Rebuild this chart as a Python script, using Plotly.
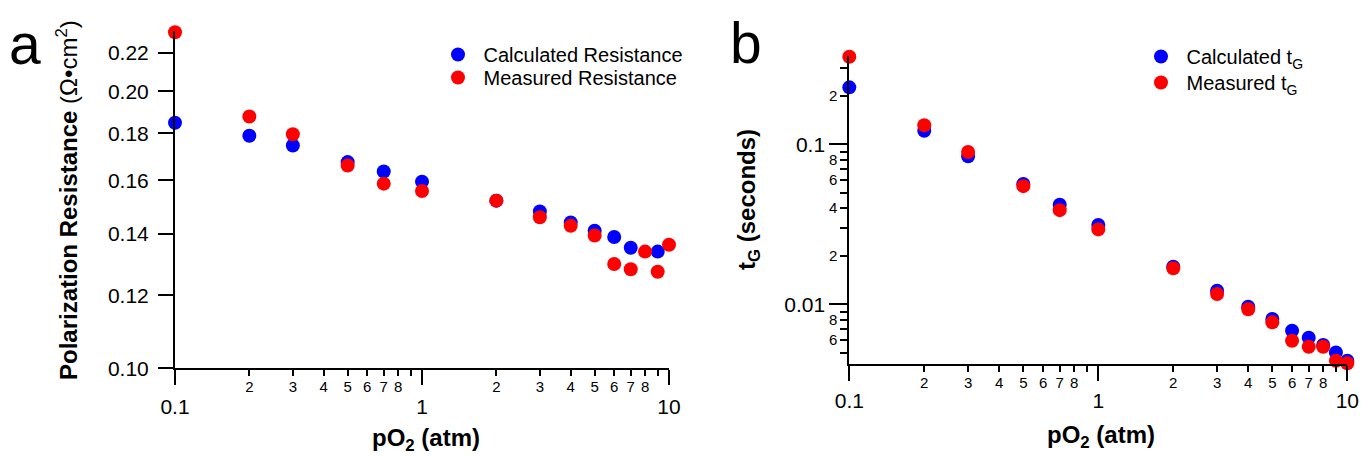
#!/usr/bin/env python3
"""Polarization resistance and t_G versus pO2, two log-log scatter panels."""
import numpy as np
import plotly.graph_objects as go

# --- data ---
po2 = [0.1, 0.2, 0.3, 0.5, 0.7, 1, 2, 3, 4, 5, 6, 7, 8, 9, 10]

res_calc = [0.1848, 0.1789, 0.1746, 0.1675, 0.1636, 0.1595, 0.1521, 0.1480,
            0.1440, 0.1411, 0.1389, 0.1352, None, 0.1339, None]
res_meas = [0.2318, 0.1877, 0.1796, 0.1661, 0.1587, 0.1558, 0.1521, 0.1459,
            0.1428, 0.1394, 0.1298, 0.1281, 0.1339, 0.1273, 0.1362]

tg_calc = [0.227, 0.1216, 0.0841, 0.0565, 0.0419, 0.0313, 0.0172, 0.01216,
           0.00966, 0.00810, 0.00684, 0.00618, 0.00557, 0.00501, 0.00444]
tg_meas = [0.353, 0.1315, 0.0895, 0.0548, 0.0388, 0.0294, 0.0168, 0.01160,
           0.00931, 0.00772, 0.00592, 0.00543, 0.00543, 0.00444, 0.00428]

x_major = [0.1, 1, 10]
x_major_text = ["0.1", "1", "10"]
x_minor = [0.2, 0.3, 0.4, 0.5, 0.6, 0.7, 0.8, 0.9, 2, 3, 4, 5, 6, 7, 8, 9]
x_minor_text = ["2", "3", "4", "5", "6", "7", "8", "",
                "2", "3", "4", "5", "6", "7", "8", ""]

res_ticks = [0.10, 0.12, 0.14, 0.16, 0.18, 0.20, 0.22]
res_text = ["0.10", "0.12", "0.14", "0.16", "0.18", "0.20", "0.22"]

tg_major = [0.01, 0.1]
tg_major_text = ["0.01", "0.1"]
tg_minor = [0.005, 0.006, 0.007, 0.008, 0.009,
            0.02, 0.03, 0.04, 0.05, 0.06, 0.07, 0.08, 0.09, 0.2, 0.3]
tg_minor_text = ["", "6", "", "8", "",
                 "2", "", "4", "", "6", "", "8", "", "2", ""]

W, H = 1361, 456
FONT = "Liberation Sans, Arial, Helvetica, sans-serif"
BLUE = "#0000ff"
RED = "#ff0000"


def px_x(p):
    return p / W


def px_y(p):
    return 1 - p / H


# plot areas in pixels
dom_ax = [px_x(175), px_x(669)]
dom_ay = [px_y(368.3), px_y(31.0)]
dom_bx = [px_x(849.3), px_x(1347.3)]
dom_by = [px_y(364.3), px_y(56.3)]

xr = [np.log10(0.1), np.log10(10)]
yr_a = [np.log10(0.1), np.log10(0.2325)]
yr_b = [np.log10(0.00422), np.log10(0.355)]

fig = go.Figure()
mk = dict(size=14, line=dict(width=0))
fig.add_trace(go.Scatter(x=po2, y=res_calc, mode="markers", name="\u00a0Calculated Resistance",
                         marker=dict(color=BLUE, **mk), xaxis="x", yaxis="y", legend="legend",
                         cliponaxis=False, hoverinfo="x+y"))
fig.add_trace(go.Scatter(x=po2, y=res_meas, mode="markers", name="\u00a0Measured Resistance",
                         marker=dict(color=RED, **mk), xaxis="x3", yaxis="y", legend="legend2",
                         cliponaxis=False, hoverinfo="x+y"))
fig.add_trace(go.Scatter(x=po2, y=tg_calc, mode="markers", name="\u00a0Calculated t<sub>G</sub>",
                         marker=dict(color=BLUE, **mk), xaxis="x2", yaxis="y2", legend="legend3",
                         cliponaxis=False, hoverinfo="x+y"))
fig.add_trace(go.Scatter(x=po2, y=tg_meas, mode="markers", name="\u00a0Measured t<sub>G</sub>",
                         marker=dict(color=RED, **mk), xaxis="x4", yaxis="y3", legend="legend4",
                         cliponaxis=False, hoverinfo="x+y"))

base = dict(type="log", showgrid=False, zeroline=False, ticks="outside", tickcolor="black",
            automargin=False, fixedrange=True)
major_font = dict(family=FONT, size=21, color="black")
minor_font = dict(family=FONT, size=15, color="black")
leg_font = dict(family=FONT, size=20, color="black")


def leg(xp, yp):
    return dict(x=px_x(xp), y=px_y(yp), xanchor="left", yanchor="top",
                bgcolor="rgba(0,0,0,0)", font=leg_font)


fig.update_layout(
    width=W, height=H,
    margin=dict(l=0, r=0, t=0, b=0),
    paper_bgcolor="white", plot_bgcolor="white",
    font=dict(family=FONT, color="black"),
    # panel a
    xaxis=dict(base, domain=dom_ax, range=xr, anchor="y", showline=True, linecolor="black",
               linewidth=2, tickmode="array", tickvals=x_major, ticktext=x_major_text,
               ticklen=15, tickwidth=2, tickfont=major_font, ticklabelstandoff=3),
    xaxis3=dict(base, range=xr, overlaying="x", anchor="y", side="bottom", showline=False,
                tickmode="array", tickvals=x_minor, ticktext=x_minor_text,
                ticklen=7, tickwidth=1.5, tickfont=minor_font, ticklabelstandoff=-2),
    yaxis=dict(base, domain=dom_ay, range=yr_a, anchor="x", showline=True, linecolor="black",
               linewidth=2, tickmode="array", tickvals=res_ticks, ticktext=res_text,
               ticklen=15, tickwidth=2, tickfont=major_font, ticklabelstandoff=5),
    # panel b
    xaxis2=dict(base, domain=dom_bx, range=xr, anchor="y2", showline=True, linecolor="black",
                linewidth=2, tickmode="array", tickvals=x_major, ticktext=x_major_text,
                ticklen=15, tickwidth=2, tickfont=major_font, ticklabelstandoff=1),
    xaxis4=dict(base, range=xr, overlaying="x2", anchor="y3", side="bottom", showline=False,
                tickmode="array", tickvals=x_minor, ticktext=x_minor_text,
                ticklen=7, tickwidth=1.5, tickfont=minor_font, ticklabelstandoff=-2),
    yaxis2=dict(base, domain=dom_by, range=yr_b, anchor="x2", showline=True, linecolor="black",
                linewidth=2, tickmode="array", tickvals=tg_major, ticktext=tg_major_text,
                ticklen=18, tickwidth=2, tickfont=major_font, ticklabelstandoff=0),
    yaxis3=dict(base, range=yr_b, overlaying="y2", anchor="x4", side="left", showline=False,
                tickmode="array", tickvals=tg_minor, ticktext=tg_minor_text,
                ticklen=8, tickwidth=1.5, tickfont=minor_font, ticklabelstandoff=0),
    legend=leg(438, 35),
    legend2=leg(438, 58),
    legend3=leg(1141, 37),
    legend4=leg(1141, 63),
    showlegend=True,
)

ann = dict(xref="paper", yref="paper", showarrow=False, xanchor="center", yanchor="middle",
           font=dict(family=FONT, color="black"))
fig.add_annotation(ann, x=px_x(24.5), y=px_y(44), text="a", font_size=57)
fig.add_annotation(ann, x=px_x(746), y=px_y(43), text="b", font_size=57)
fig.add_annotation(ann, x=px_x(67), y=px_y(200), textangle=-90, font_size=24,
                   text="<b>Polarization Resistance </b>(Ω•cm<sup>2</sup>)")
fig.add_annotation(ann, x=px_x(748), y=px_y(200), textangle=-90, font_size=24,
                   text="<b>t<sub>G</sub> (seconds)</b>")
fig.add_annotation(ann, x=px_x(426), y=px_y(439), font_size=24,
                   text="<b>pO<sub>2</sub> (atm)</b>")
fig.add_annotation(ann, x=px_x(1101), y=px_y(436), font_size=24,
                   text="<b>pO<sub>2</sub> (atm)</b>")

fig.write_html("out.html", config={"displayModeBar": False},
               post_script="document.body.style.margin='0';")
